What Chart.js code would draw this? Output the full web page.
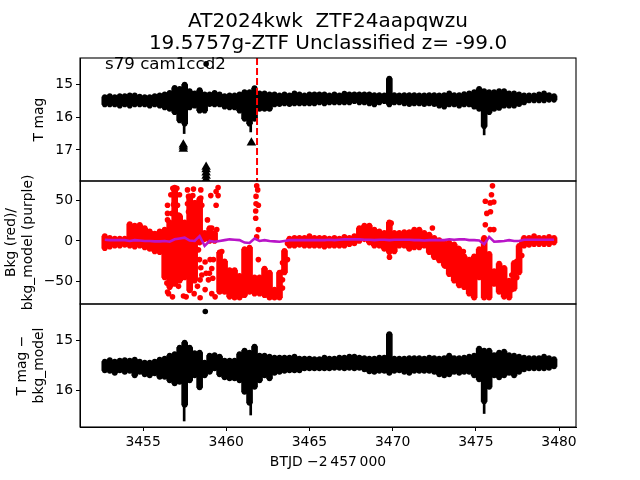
<!DOCTYPE html>
<html>
<head>
<meta charset="utf-8">
<style>
  body { margin: 0; background: #fff; }
  canvas { position: absolute; left: 0; top: 0; }
  #note { position: absolute; left: 105px; top: 54px; font: 16.67px "DejaVu Sans"; color: #000; }
</style>
<script src="https://cdn.jsdelivr.net/npm/chart.js@4"></script>
</head>
<body>
<canvas id="topChart" width="640" height="480"></canvas>
<canvas id="midChart" width="640" height="480"></canvas>
<canvas id="lowChart" width="640" height="480"></canvas>
<div id="note">s79 cam1ccd2</div>
<script>
const titleLines = ["AT2024kwk  ZTF24aapqwzu", "19.5757g-ZTF Unclassified z= -99.0"];
const xTitle = "BTJD \u22122\u2009457\u2009000";
const xTicks = [3455, 3460, 3465, 3470, 3475, 3480];
const magTicks = [15, 16, 17];
const bkgTicks = [-50, 0, 50];
const diffTicks = [15, 16];

const timeColumns = [
    3452.7, 3453.0, 3453.3, 3453.6, 3453.9, 3454.2, 3454.5, 3454.8, 3455.1, 3455.4,
    3455.7, 3456.0, 3456.3, 3456.6, 3456.9, 3457.2, 3457.5, 3457.8, 3458.1, 3458.4,
    3458.7, 3459.0, 3459.3, 3459.6, 3459.9, 3460.2, 3460.5, 3460.8, 3461.1, 3461.4,
    3461.7, 3462.0, 3462.3, 3462.6, 3462.9, 3463.2, 3463.5, 3463.8, 3464.1, 3464.4,
    3464.7, 3465.0, 3465.3, 3465.6, 3465.9, 3466.2, 3466.5, 3466.8, 3467.1, 3467.4,
    3467.7, 3468.0, 3468.3, 3468.6, 3468.9, 3469.2, 3469.5, 3469.8, 3470.1, 3470.4,
    3470.7, 3471.0, 3471.3, 3471.6, 3471.9, 3472.2, 3472.5, 3472.8, 3473.1, 3473.4,
    3473.7, 3474.0, 3474.3, 3474.6, 3474.9, 3475.2, 3475.5, 3475.8, 3476.1, 3476.4,
    3476.7, 3477.0, 3477.3, 3477.6, 3477.9, 3478.2, 3478.5, 3478.8, 3479.1, 3479.4, 3479.7
];

// T mag band, bright and faint edge
const magHigh = [
    15.38, 15.35, 15.38, 15.35, 15.35, 15.33, 15.33, 15.37, 15.38, 15.38,
    15.35, 15.33, 15.30, 15.25, 15.10, 15.13, 15.00, 15.20, 15.27, 15.17,
    15.30, 15.30, 15.25, 15.30, 15.35, 15.33, 15.33, 15.30, 15.23, 15.23,
    15.11, 15.27, 15.27, 15.30, 15.30, 15.33, 15.30, 15.33, 15.27, 15.30,
    15.33, 15.30, 15.30, 15.30, 15.30, 15.33, 15.30, 15.33, 15.28, 15.30,
    15.30, 15.30, 15.30, 15.30, 15.32, 15.32, 15.33, 14.82, 15.32, 15.33,
    15.32, 15.32, 15.32, 15.33, 15.33, 15.32, 15.32, 15.33, 15.32, 15.27,
    15.32, 15.32, 15.29, 15.27, 15.23, 15.13, 15.20, 15.23, 15.23, 15.20,
    15.20, 15.27, 15.27, 15.30, 15.33, 15.33, 15.33, 15.30, 15.27, 15.32, 15.35
];
const magLow = [
    15.61, 15.61, 15.61, 15.65, 15.61, 15.65, 15.61, 15.61, 15.61, 15.65,
    15.61, 15.65, 15.70, 15.75, 15.85, 16.10, 16.20, 15.70, 15.65, 15.80,
    15.80, 15.60, 15.61, 15.61, 15.68, 15.70, 15.70, 15.80, 16.05, 16.20,
    16.05, 15.75, 15.75, 15.75, 15.61, 15.60, 15.58, 15.60, 15.58, 15.58,
    15.58, 15.58, 15.58, 15.55, 15.58, 15.55, 15.55, 15.55, 15.55, 15.55,
    15.51, 15.55, 15.55, 15.58, 15.61, 15.55, 15.51, 15.61, 15.55, 15.55,
    15.58, 15.60, 15.58, 15.58, 15.60, 15.58, 15.60, 15.65, 15.68, 15.61,
    15.61, 15.65, 15.61, 15.61, 15.68, 15.75, 16.28, 15.85, 15.75, 15.72,
    15.65, 15.65, 15.65, 15.60, 15.55, 15.49, 15.49, 15.49, 15.49, 15.47, 15.47
];

// Background band edges
const bkgHigh = [
    6, 4, 3, 3, 3, 21, 19, 20, 16, 12,
    9, 12, 14, 23, 66, 31, 23, 55, 47, 52,
    10, 16, 10, -14, -25, -36, -36, -43, -10, -8,
    -45, -45, -34, -39, -60, -39, -12, 3, 4, 4,
    4, 6, 4, 4, 4, 3, 4, 3, 5, 4,
    6, 16, 19, 19, 14, 12, 10, 23, 10, 10,
    11, 11, 14, 14, 10, 8, 4, 1, -2, -2,
    -4, -10, -19, -23, -19, -10, 4, -16, -37, -28,
    -33, -49, -27, -6, 4, 4, 6, 4, 4, 5, 4
];
const bkgLow = [
    -9, -7, -6, -6, -5, -6, -7, -6, -8, -10,
    -13, -14, -45, -57, -53, -49, -45, -61, -49, -2,
    2, 0, 0, -63, -63, -69, -70, -70, -67, -63,
    -65, -65, -67, -70, -70, -70, -39, -6, -6, -5,
    -6, -6, -6, -6, -7, -6, -6, -6, -6, -4,
    -3, 0, 2, -2, -6, -6, -10, -14, -13, -6,
    -6, -10, -8, -8, -6, -14, -20, -24, -30, -41,
    -49, -55, -57, -65, -70, -45, -70, -70, -53, -63,
    -69, -70, -59, -39, -6, -5, -4, -4, -4, -4, -2
];
const bkgModel = [
    1.5, 1, 1, 1, 1, 0, 1, 0.5, 0, 0,
    -0.5, -0.5, 0, -1, 2, 3, 4, 0.5, 0, 6,
    -6, 0, -1, 0, 1, 2, 1.5, 1, -2, -2.5,
    3, 0, 1, 0, -0.5, -1, 0, 1, 1, 1,
    1, 1, 1, 1, 1, 1.5, 1, 1.5, 2, 2,
    2, 2, 1.5, 1.5, 1, 1.5, 1.5, 1, 1.5, 1.5,
    1.5, 1.5, 1, 1, 0.5, 1, 1, 1, 1, 2,
    1.5, 2, 2, 1, 1, 0.5, -4, 5, -1, -0.5,
    0, 1, 0, 0, 1.5, 1.5, 1.5, 1.5, 1.5, 1.5, 1.5
];

// T mag minus model band edges
const diffHigh = [
    15.43, 15.40, 15.43, 15.41, 15.40, 15.41, 15.39, 15.43, 15.45, 15.45,
    15.43, 15.39, 15.37, 15.31, 15.28, 15.15, 15.05, 15.15, 15.26, 15.25,
    15.45, 15.31, 15.30, 15.33, 15.41, 15.41, 15.41, 15.28, 15.21, 15.25,
    15.13, 15.31, 15.31, 15.33, 15.35, 15.35, 15.35, 15.35, 15.33, 15.37,
    15.37, 15.37, 15.38, 15.38, 15.35, 15.37, 15.37, 15.35, 15.35, 15.33,
    15.33, 15.35, 15.36, 15.37, 15.37, 15.35, 15.35, 14.88, 15.37, 15.37,
    15.37, 15.36, 15.36, 15.36, 15.37, 15.35, 15.36, 15.37, 15.36, 15.31,
    15.36, 15.36, 15.35, 15.33, 15.31, 15.17, 15.21, 15.21, 15.30, 15.25,
    15.23, 15.30, 15.31, 15.33, 15.35, 15.36, 15.36, 15.36, 15.33, 15.36, 15.38
];
const diffLow = [
    15.61, 15.62, 15.66, 15.61, 15.64, 15.62, 15.71, 15.64, 15.69, 15.71,
    15.67, 15.74, 15.74, 15.81, 15.87, 15.84, 16.30, 15.81, 15.71, 15.95,
    15.71, 15.64, 15.57, 15.69, 15.75, 15.77, 15.77, 15.81, 16.04, 16.26,
    15.94, 15.81, 15.71, 15.77, 15.66, 15.64, 15.62, 15.61, 15.61, 15.61,
    15.57, 15.57, 15.57, 15.57, 15.57, 15.57, 15.56, 15.56, 15.57, 15.56,
    15.57, 15.56, 15.59, 15.63, 15.64, 15.62, 15.62, 15.66, 15.62, 15.61,
    15.64, 15.66, 15.62, 15.62, 15.62, 15.62, 15.64, 15.69, 15.71, 15.69,
    15.64, 15.66, 15.64, 15.64, 15.71, 15.79, 16.23, 15.94, 15.71, 15.75,
    15.71, 15.66, 15.71, 15.64, 15.59, 15.57, 15.57, 15.57, 15.57, 15.56, 15.53
];

// Scattered background points around the two scattered-light bursts
const cloudTime = [
    3456.47, 3456.47, 3456.47, 3456.79, 3457.03, 3456.67, 3456.93, 3457.19, 3456.83, 3457.07,
    3456.73, 3457.13, 3457.67, 3458.03, 3457.73, 3457.99, 3457.67, 3457.93, 3458.13, 3457.73,
    3458.03, 3458.47, 3459.07, 3459.39, 3459.51, 3459.51, 3459.39, 3458.47, 3458.53, 3458.87,
    3459.13, 3459.43, 3456.77, 3456.47, 3457.43, 3457.59, 3458.07, 3458.43, 3458.33, 3458.39,
    3458.47, 3458.53, 3458.43, 3458.27, 3458.73, 3458.79, 3459.03, 3459.23, 3459.13, 3458.99,
    3459.19, 3458.93, 3458.73, 3459.13, 3459.33, 3459.73, 3456.43, 3456.53, 3457.13,
    3461.83, 3461.89, 3461.79, 3461.79, 3461.93, 3461.77, 3461.77, 3461.93, 3461.93, 3461.83,
    3476.00, 3475.94, 3475.57, 3475.86, 3476.08, 3475.66, 3475.88, 3475.57, 3475.86, 3476.08,
    3469.81, 3469.91, 3472.39, 3473.95, 3474.25, 3473.15
];
const cloudBkg = [
    44, 34, 26, 65, 65, 57, 59, 57, 45, 44,
    34, 32, 63, 64, 55, 56, 46, 44, 47, 36,
    34, 63, 56, 61, 66, 56, 44, 53, 44, 26,
    16, 14, -69, -63, -68, -69, -65, -70, -11, -23,
    -33, -42, -48, -56, -26, -40, -23, -23, -34, -40,
    -46, -48, -60, -65, -69, -13, -52, -65, -56,
    68, 63, 55, 46, 44, 37, 28, 14, -23, 5,
    68, 57, 49, 47, 48, 34, 36, 20, 14, 14,
    -20, 22, 16, -9, -13, -31
];

// Points along the steep recovery edges of the background dips
const edgeTime = [3463.38, 3463.38, 3463.38, 3463.68, 3463.68, 3463.38, 3477.46, 3477.46, 3477.76, 3477.76, 3477.16, 3477.16];
const edgeBkg = [-27, -38, -48, -3, -23, -58, -25, -45, -3, -18, -42, -60];

// Single T mag points outside the band
const magExtraTime = [3458.79];
const magExtra = [14.37];
const diffExtraTime = [3458.74];
const diffExtra = [14.43];

// Thin error bars under the deepest points
const errTime = [3457.47, 3461.47, 3475.5];
const errMagFaint = [16.5, 16.45, 16.54];
const errMagBright = [16.1, 16.1, 16.1];
const errDiffFaint = [16.62, 16.5, 16.47];
const errDiffBright = [16.1, 16.1, 16.1];

// Upper limit triangles
const limitTime = [3457.42, 3457.42, 3457.42, 3461.51, 3458.79, 3458.79, 3458.79, 3458.79, 3458.79];
const limitMag = [16.84, 16.9, 16.97, 16.78, 17.52, 17.6, 17.7, 17.8, 17.9];

// Dashed event line
const eventTime = [3461.85, 3461.85];
const eventMag = [14.19, 17.95];

const frame = {
    id: "frame",
    afterDraw(chart) {
        const a = chart.chartArea;
        const ctx = chart.ctx;
        ctx.save();
        ctx.strokeStyle = "#000";
        ctx.lineWidth = 1.1;
        ctx.strokeRect(a.left, a.top, a.right - a.left, a.bottom - a.top);
        ctx.restore();
    },
};

function columnBars(times, low, high, color, thickness) {
    return {
        type: "bar",
        data: times.map((t, i) => ({ x: t, y: [low[i], high[i]] })),
        backgroundColor: color,
        barThickness: thickness,
        grouped: false,
        order: 3,
    };
}

function dots(times, values, color) {
    return {
        type: "scatter",
        data: times.map((t, i) => ({ x: t, y: values[i] })),
        backgroundColor: color,
        borderWidth: 0,
        pointRadius: 2.8,
        order: 2,
    };
}

function minusSign(value) {
    return String(value).replace("-", "\u2212");
}

function fixedTicks(values) {
    return (axis) => {
        axis.ticks = values.map((v) => ({ value: v }));
    };
}

function makePanel(id, datasets, panel) {
    return new Chart(document.getElementById(id), {
        data: { datasets: datasets },
        plugins: [frame],
        options: {
            responsive: false,
            animation: false,
            layout: { padding: { top: panel.top, bottom: panel.bottom, right: 64, left: 0 } },
            plugins: {
                legend: { display: false },
                tooltip: { enabled: false },
                title: panel.title
                    ? {
                          display: true,
                          text: panel.title,
                          fullSize: false,
                          color: "#000",
                          font: { family: "DejaVu Sans", size: 20, weight: "normal", lineHeight: 1.08 },
                          padding: { top: 11, bottom: 3.8 },
                      }
                    : { display: false },
            },
            scales: {
                x: {
                    type: "linear",
                    display: panel.showX,
                    min: 3451.21,
                    max: 3481.02,
                    offset: false,
                    afterBuildTicks: fixedTicks(xTicks),
                    grid: { drawOnChartArea: false, offset: false, color: "#000", tickLength: 4, tickWidth: 1 },
                    border: { color: "#000" },
                    ticks: {
                        maxRotation: 0,
                        color: "#000",
                        padding: 3,
                        font: { family: "DejaVu Sans", size: 13.9 },
                        callback: (v) => String(v),
                    },
                    title: {
                        display: panel.showX,
                        text: xTitle,
                        color: "#000",
                        padding: { bottom: 9, top: 0 },
                        font: { family: "DejaVu Sans", size: 13.9 },
                    },
                    afterFit(axis) {
                        if (panel.showX) axis.height = 53;
                    },
                },
                y: {
                    min: panel.min,
                    max: panel.max,
                    reverse: panel.reverse,
                    afterBuildTicks: fixedTicks(panel.ticks),
                    grid: { drawOnChartArea: false, color: "#000", tickLength: 4, tickWidth: 1 },
                    border: { color: "#000" },
                    ticks: {
                        color: "#000",
                        padding: 3,
                        font: { family: "DejaVu Sans", size: 13.9 },
                        callback: minusSign,
                    },
                    title: {
                        display: true,
                        text: panel.label,
                        color: "#000",
                        padding: { top: panel.labelPad },
                        font: { family: "DejaVu Sans", size: 13.9, lineHeight: 1.2 },
                    },
                    afterFit(axis) {
                        axis.width = 80;
                    },
                },
            },
        },
    });
}

makePanel(
    "topChart",
    [
        {
            type: "line",
            data: eventTime.map((t, i) => ({ x: t, y: eventMag[i] })),
            borderColor: "#ff0000",
            borderWidth: 2,
            borderDash: [7, 3],
            pointRadius: 0,
            order: 1,
        },
        {
            ...dots(limitTime, limitMag, "#000"),
            pointStyle: "triangle",
            pointRadius: 5.5,
        },
        dots(timeColumns, magHigh, "#000"),
        dots(timeColumns, magLow, "#000"),
        dots(magExtraTime, magExtra, "#000"),
        columnBars(timeColumns, magLow, magHigh, "#000", 6),
        columnBars(errTime, errMagFaint, errMagBright, "#000", 2),
    ],
    { title: titleLines, top: 0, bottom: 299, min: 14.19, max: 17.95, reverse: true, ticks: magTicks, label: "T mag", labelPad: 31, showX: false }
);

makePanel(
    "midChart",
    [
        {
            type: "line",
            data: timeColumns.map((t, i) => ({ x: t, y: bkgModel[i] })),
            borderColor: "#b915c8",
            borderWidth: 2.6,
            pointRadius: 0,
            order: 1,
        },
        dots(timeColumns, bkgHigh, "#ff0000"),
        dots(timeColumns, bkgLow, "#ff0000"),
        dots(cloudTime, cloudBkg, "#ff0000"),
        dots(edgeTime, edgeBkg, "#ff0000"),
        columnBars(timeColumns, bkgLow, bkgHigh, "#ff0000", 6),
    ],
    { top: 181, bottom: 176, min: -77.8, max: 74, reverse: false, ticks: bkgTicks, label: ["Bkg (red)/", "bkg_model (purple)"], labelPad: 3, showX: false }
);

makePanel(
    "lowChart",
    [
        dots(timeColumns, diffHigh, "#000"),
        dots(timeColumns, diffLow, "#000"),
        dots(diffExtraTime, diffExtra, "#000"),
        columnBars(timeColumns, diffLow, diffHigh, "#000", 6),
        columnBars(errTime, errDiffFaint, errDiffBright, "#000", 2),
    ],
    { top: 304, bottom: 0, min: 14.28, max: 16.74, reverse: true, ticks: diffTicks, label: ["T mag \u2212", "bkg_model"], labelPad: 14, showX: true }
);
</script>
</body>
</html>
